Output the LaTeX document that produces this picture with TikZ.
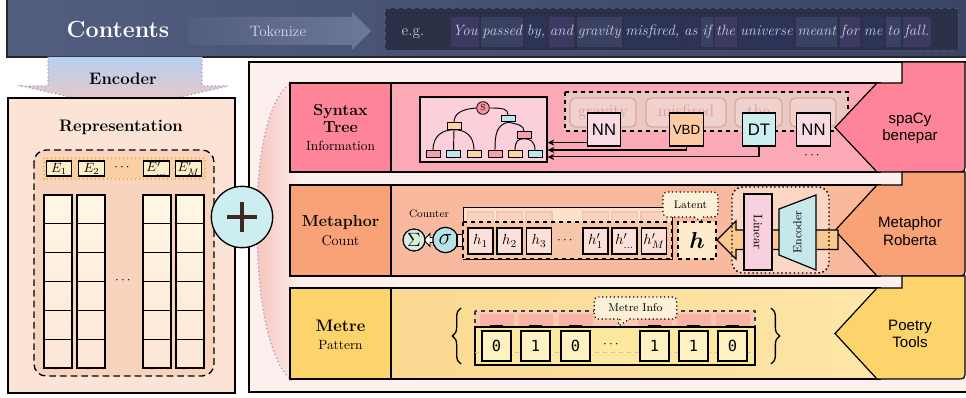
\documentclass[tikz,border=0pt]{standalone}
\usepackage{amsmath}
\usepackage{bm}
\usepackage{fontspec}
\newfontfamily\arialf{Liberation Sans}
\newfontfamily\monof{DejaVu Sans Mono}
\usetikzlibrary{shapes.callouts,arrows.meta,calc,decorations.pathreplacing}
\newcommand{\fz}[1]{\fontsize{#1}{#1}\selectfont}
\definecolor{bannerL}{HTML}{525D80}
\definecolor{bannerR}{HTML}{3C4465}
\definecolor{tokR}{HTML}{6E789B}
\definecolor{tokText}{HTML}{D5D9E6}
\definecolor{egbg}{HTML}{2C3148}
\definecolor{egline}{HTML}{4E5676}
\definecolor{wA}{HTML}{3A4162}
\definecolor{wB}{HTML}{2C3258}
\definecolor{wC}{HTML}{3C3A63}
\definecolor{senttext}{HTML}{C9CDDA}
\definecolor{encTop}{HTML}{B5D0F0}
\definecolor{encBot}{HTML}{F4C5BD}
\definecolor{dotpurple}{HTML}{A597C4}
\definecolor{repbg}{HTML}{FBE3D6}
\definecolor{repinner}{HTML}{F8D4BF}
\definecolor{eband}{HTML}{F9CFA4}
\definecolor{ebandline}{HTML}{F5B545}
\definecolor{etokc}{HTML}{FDF0C8}
\definecolor{cellTop}{HTML}{FFF7E3}
\definecolor{cellBot}{HTML}{FDE6D6}
\definecolor{pluscyan}{HTML}{CDEEF0}
\definecolor{plusbrown}{HTML}{3E2A22}
\definecolor{panelbg}{HTML}{FCEFEE}
\definecolor{glow}{HTML}{F7C3BC}
\definecolor{synrow}{HTML}{FCA9B7}
\definecolor{synlab}{HTML}{FE8599}
\definecolor{treebg}{HTML}{FBD0DA}
\definecolor{troot}{HTML}{F7919F}
\definecolor{tpink}{HTML}{F7A0AB}
\definecolor{tcyan}{HTML}{B9E9EE}
\definecolor{torange}{HTML}{FDD3A8}
\definecolor{wordbox}{HTML}{ECC8C4}
\definecolor{wfbg}{HTML}{EFD2CF}
\definecolor{wfline}{HTML}{DDA898}
\definecolor{wordfade}{HTML}{D7A196}
\definecolor{nnfill}{HTML}{F9DCE3}
\definecolor{vbdfill}{HTML}{FDCAA4}
\definecolor{dtfill}{HTML}{CDEEF0}
\definecolor{metrow}{HTML}{F8B99E}
\definecolor{metlab}{HTML}{F9A277}
\definecolor{hback}{HTML}{FDE1CC}
\definecolor{hbackbox}{HTML}{FAD3BE}
\definecolor{hbackline}{HTML}{F2C4AE}
\definecolor{hdash}{HTML}{F6C6A8}
\definecolor{hbox}{HTML}{FDE0D8}
\definecolor{latfill}{HTML}{FDEBCB}
\definecolor{callfill}{HTML}{FCF0D8}
\definecolor{sigA}{HTML}{D5F0DF}
\definecolor{sigB}{HTML}{B7E2E8}
\definecolor{arrowor}{HTML}{FCC892}
\definecolor{encframe}{HTML}{FBD6C5}
\definecolor{linfill}{HTML}{F9D0E0}
\definecolor{encfill}{HTML}{C6E8EA}
\definecolor{mtrL}{HTML}{FBD68C}
\definecolor{mtrR}{HTML}{FDE6A8}
\definecolor{mtrlab}{HTML}{FDD46B}
\definecolor{bitstrip}{HTML}{FDE8A0}
\definecolor{bitbox}{HTML}{FEF1C2}
\definecolor{bitback}{HTML}{F8B2A6}
\definecolor{bitbackbg}{HTML}{FAC9AE}
\definecolor{navy}{HTML}{34405E}
\definecolor{greyline}{HTML}{CFC5A5}
\begin{document}
\begin{tikzpicture}[x=0.75pt,y=-0.75pt,
  lbl/.style={inner sep=0pt,align=center},
  bl/.style={inner sep=0pt,anchor=base},
  wtok/.style={anchor=base west,inner xsep=1pt,inner ysep=5.6pt,text height=9pt,text depth=3pt,text=senttext,font=\itshape\fz{11.2}},
  tnode/.style={draw=black,line width=0.6pt,minimum width=10.5pt,minimum height=5pt,inner sep=0pt},
  posbox/.style={draw=black,line width=0.9pt,minimum width=25pt,minimum height=24.75pt,inner sep=0pt},
  arr/.style={line width=0.8pt,-{Stealth[length=5pt,width=4.5pt]}},
  hcell/.style={draw=black,line width=1.1pt,fill=hbox,minimum width=19pt,minimum height=19.5pt,inner sep=0pt,font=\fz{10.8}},
  bitcell/.style={draw=black,line width=1.1pt,fill=bitbox,minimum width=21.75pt,minimum height=22.5pt,inner sep=0pt,font=\monof\fz{11.5}},
  etokst/.style={draw=black,line width=0.9pt,fill=etokc,minimum width=19pt,minimum height=11.25pt,inner sep=0pt,font=\fz{10}},
  callbox/.style={rectangle callout,draw=black,dotted,line width=0.9pt,fill=callfill,rounded corners=3pt,inner sep=0pt,callout pointer width=7pt},
  pent/.style={draw=black,line width=0.9pt},
  toolt/.style={inner sep=0pt,align=center,font=\arialf\fontsize{11.3}{13}\selectfont},
  fadew/.style={draw=wfline,line width=1pt,rounded corners=4pt,fill=wfbg,minimum height=21.75pt,inner sep=0pt,text=wordfade,font=\fz{12.5},text height=8pt,text depth=2pt},
]
\useasboundingbox (0,0) rectangle (966,398);
\fill[white] (0,0) rectangle (966,398);

% ---------- banner ----------
\shade[left color=bannerL,right color=bannerR] (7,-3) rectangle (975,57);
\draw[line width=1.5pt,black!85] (7,-3) rectangle (975,57);
\node[lbl,text=white,font=\bfseries\fz{17.5}] (contents) at (118,30) {Contents};
\shade[left color=bannerL,right color=tokR] (188,17) -- (352,17) -- (352,12) -- (371,31) -- (352,50) -- (352,45) -- (188,45) -- cycle;
\node[lbl,text=tokText,font=\fz{11.3}] (tok) at (278,31) {Tokenize};
\draw[egline,dashed,fill=egbg,line width=0.6pt] (385,8) rectangle (958,50);
\node[bl,text=senttext,font=\fz{11.5}] (eg) at (413,36) {e.g.};
\node[wtok,fill=wC] (word1) at (451,36) {You};
\foreach \w/\c [count=\i from 2, evaluate=\i as \j using int(\i-1)] in {passed/wA,{by,}/wB,and/wC,gravity/wA,{misfired,}/wB,as/wB,if/wA,the/wC,universe/wB,meant/wA,for/wC,me/wB,to/wA,fall./wC}
  \node[wtok,fill=\c] (word\i) at ([xshift=1.2pt]word\j.base east) {\w};

% ---------- encoder arrow ----------
\shade[top color=encTop,bottom color=encBot] (48,57) -- (202,57) -- (202,86) -- (228,86) -- (125,110) -- (22,86) -- (48,86) -- cycle;
\draw[dotpurple,dotted,line width=0.9pt] (48,57) -- (48,86) -- (22,86) -- (125,110) -- (228,86) -- (202,86) -- (202,57);
\node[lbl,font=\bfseries\fz{12.5}] (enc) at (123,79) {Encoder};

% ---------- representation ----------
\draw[fill=repbg,line width=0.9pt] (8,98) rectangle (235,393);
\node[lbl,font=\bfseries\fz{12.5}] (rep) at (121,127) {Representation};
\draw[dashed,line width=1pt,fill=repinner,rounded corners=9pt,dash pattern=on 5pt off 3pt] (34,150) rectangle (214,376);
\draw[ebandline,dotted,line width=1pt,fill=eband] (44,158) rectangle (205,179);
\node[etokst] (e1) at (59,168.5) {$E_1$};
\node[etokst] (e2) at (91.5,168.5) {$E_2$};
\node[lbl] (edots) at (123,168) {$\cdots$};
\node[etokst] (e3) at (156.5,168.5) {$E'_{\dots}$};
\node[etokst] (e4) at (188.5,168.5) {$E'_M$};
\foreach \xa in {44,77,143,176}{
  \shade[top color=cellTop,bottom color=cellBot] (\xa,195) rectangle ++(28,173);
  \foreach \ya in {195,223.83,252.67,281.5,310.33,339.17}
    \draw[line width=0.9pt] (\xa,\ya) rectangle ++(28,28.83);
}
\node[lbl] (cdots) at (124,281) {$\cdots$};

% ---------- right panel ----------
\draw[fill=panelbg,line width=0.9pt] (249,62) rectangle (975,392);
\shade[left color=glow,right color=panelbg] (292,82) .. controls (264,100) and (256,170) .. (257,230) .. controls (258,300) and (268,360) .. (292,381) -- (300,381) -- (300,82) -- cycle;
\draw[dotpurple,dotted,line width=0.9pt] (292,82) .. controls (264,100) and (256,170) .. (257,230) .. controls (258,300) and (268,360) .. (292,381);

% ---------- row 1 : syntax ----------
\draw[fill=synrow,line width=0.9pt] (290,83) rectangle (880,172);
\node[draw,line width=0.9pt,fill=synlab,minimum width=75.75pt,minimum height=66.75pt,inner sep=0pt] (syn) at (340.5,127.5) {};
\node[bl,font=\bfseries\fz{12}] at (340.5,116) {Syntax};
\node[bl,font=\bfseries\fz{12}] at (340.5,133) {Tree};
\node[bl,font=\fz{10}] at (340.5,151) {Information};

\node[draw,line width=0.9pt,fill=treebg,minimum width=95.25pt,minimum height=48.75pt,inner sep=0pt] (tree) at (483.5,129.5) {};
\node[circle,draw,line width=0.6pt,fill=troot,minimum size=9.5pt,inner sep=0pt,font=\fz{6.5}] (S) at (483,108) {S};
\node[tnode,fill=torange] (L) at (454,126) {};
\node[tnode,fill=tcyan] (R) at (508,118.5) {};
\node[tnode,fill=tpink] (RR) at (524,135) {};
\node[tnode,fill=tpink] (l1) at (433,154) {};
\node[tnode,fill=tcyan] (l2) at (453.5,154) {};
\node[tnode,fill=torange] (l3) at (474,154) {};
\node[tnode,fill=tpink] (l4) at (495,154) {};
\node[tnode,fill=torange] (l5) at (515,154) {};
\node[tnode,fill=tcyan] (l6) at (535,154) {};
\begin{scope}[line width=0.7pt]
\draw (S.west) .. controls +(-14,1) and +(0,-9) .. (L.north);
\draw (S.east) .. controls +(13,0) and +(0,-6) .. (R.north);
\draw (l1.north) .. controls +(0,-15) and +(-11,0) .. (L.south) .. controls +(11,0) and +(0,-15) .. (l3.north);
\draw (L.south) -- (l2.north);
\draw (R.south) .. controls +(-12,3) and +(0,-15) .. (l4.north);
\draw (R.south) .. controls +(10,2) and +(0,-6) .. (RR.north);
\draw (l5.north) .. controls +(0,-9) and +(-6,0) .. (RR.south) .. controls +(6,0) and +(0,-9) .. (l6.north);
\end{scope}

\draw[dashed,line width=1pt,fill=wordbox] (565,92) rectangle (848,131);
\node[fadew,minimum width=49.5pt] (fw1) at (603,112.5) {gravity};
\node[fadew,minimum width=60pt] (fw2) at (686,112.5) {misfired};
\node[fadew,minimum width=35.25pt] (fw3) at (758.5,112.5) {the};
\node[fadew,minimum width=34.5pt] (fw4) at (813,112.5) {\dots};

\node[posbox,fill=nnfill,font=\arialf\fz{12.5}] (NN) at (604,129.5) {NN};
\node[posbox,fill=vbdfill,font=\arialf\fz{10}] (VBD) at (686.5,129.5) {VBD};
\node[posbox,fill=dtfill,font=\arialf\fz{12.5}] (DT) at (759,129.5) {DT};
\node[posbox,fill=nnfill,font=\arialf\fz{12.5}] (NN2) at (813.5,129.5) {NN};
\node[lbl] (posdots) at (813,156) {$\cdots$};

\path ([yshift=3pt]NN.south west) coordinate (nnA);
\draw[arr] (nnA) -- (nnA -| tree.east);
\draw[arr] (VBD.south) |- ([yshift=-15.4pt]tree.east);
\draw[arr] (DT.south) |- ([yshift=-20.6pt]tree.east);

\draw[pent,fill=synlab] (902,62) -- (965,62) -- (965,163) .. controls (965,172) and (965,172) .. (956,172) -- (877,172) -- (835,127.5) -- (877,83) -- (902,83) -- cycle;
\node[toolt] (spacy) at (910,128) {spaCy\\benepar};

% ---------- row 2 : metaphor ----------
\draw[fill=metrow,line width=0.9pt] (290,185) rectangle (880,276);
\node[draw,line width=0.9pt,fill=metlab,minimum width=75.75pt,minimum height=68.25pt,inner sep=0pt] (met) at (340.5,230.5) {};
\node[bl,font=\bfseries\fz{12}] at (340.5,227) {Metaphor};
\node[bl,font=\fz{10.5}] at (340.5,246) {Count};

\node[lbl,font=\fz{8}] (counter) at (429,214) {Counter};
\draw[fill=white,line width=0.7pt] (424,240) -- (430,233.5) -- (430,237.5) -- (436,237.5) -- (436,242.5) -- (430,242.5) -- (430,246.5) -- cycle;
\node[circle,draw,line width=0.9pt,fill=sigA,minimum size=16.5pt,inner sep=0pt,font=\fz{15}] (sum) at (414,240) {$\Sigma$};
\node[circle,draw,line width=0.9pt,fill=sigB,minimum size=19pt,inner sep=0pt,font=\fz{16.5}] (sig) at (445.5,240) {$\sigma$};
\draw[fill=hback,line width=0.8pt] (457,234.5) rectangle (463,246.5);

\draw[fill=hback,line width=0.7pt] (463,207) rectangle (672,259);
\foreach \x in {480.5,509.5,539,595.5,624.5,654}
  \draw[hbackline,fill=hbackbox,line width=0.8pt] (\x-13,212) rectangle (\x+13,240);
\draw[dashed,line width=1pt,fill=hdash] (463,222) rectangle (672,259);
\node[hcell] (h1) at (480.5,241) {$h_1$};
\node[hcell] (h2) at (509.5,241) {$h_2$};
\node[hcell] (h3) at (539,241) {$h_3$};
\node[lbl] (hdots) at (566,241) {$\cdots$};
\node[hcell] (h4) at (595.5,241) {$h'_1$};
\node[hcell] (h5) at (624.5,241) {$h'_{\dots}$};
\node[hcell] (h6) at (654,241) {$h'_M$};

\node[draw,dashed,line width=1pt,fill=latfill,minimum width=28.5pt,minimum height=27.75pt,inner sep=0pt,font=\fz{17}] (hlat) at (697,240.5) {$\bm{h}$};
\node[callbox,minimum width=41.25pt,minimum height=18.75pt,font=\fz{8.2},callout absolute pointer={(702,222)}] (lat) at (690.5,204.5) {Latent};

\draw[pent,fill=metlab] (902,172) -- (965,172) -- (965,267) .. controls (965,276) and (965,276) .. (956,276) -- (877,276) -- (835,230.5) -- (877,185) -- (902,185) -- cycle;
\node[toolt] (robta) at (910,231) {Metaphor\\Roberta};

\fill[encframe,rounded corners=8pt] (732,187) rectangle (829,273);
\draw[fill=arrowor,line width=0.9pt] (838,230) -- (736,230) -- (736,221) -- (717,240) -- (736,259) -- (736,249.5) -- (838,249.5) -- cycle;
\draw[dotted,line width=1.1pt,rounded corners=8pt] (732,187) rectangle (829,273);
\node[draw,line width=0.9pt,fill=linfill,minimum width=21pt,minimum height=57pt,inner sep=0pt] (lin) at (758,232) {};
\node[lbl,rotate=-90,font=\fz{9.3}] at (lin) {Linear};
\draw[fill=encfill,line width=0.9pt] (779,209) -- (816,195) -- (816,270) -- (779,255) -- cycle;
\node[lbl,rotate=90,font=\fz{8.7}] (encl) at (797.5,232) {Encoder};

% ---------- row 3 : metre ----------
\shade[left color=mtrL,right color=mtrR] (290,288) rectangle (880,379);
\draw[line width=0.9pt] (290,288) rectangle (880,379);
\node[draw,line width=0.9pt,fill=mtrlab,minimum width=75.75pt,minimum height=68.25pt,inner sep=0pt] (mtr) at (340.5,333.5) {};
\node[bl,font=\bfseries\fz{12.5}] at (340.5,332) {Metre};
\node[bl,font=\fz{10}] at (340.5,350) {Pattern};

\draw[decorate,decoration={brace,amplitude=6.5pt},line width=1pt] (461,364) -- (461,308);
\draw[decorate,decoration={brace,amplitude=6.5pt},line width=1pt] (771,308) -- (771,364);

\draw[navy,dashed,line width=1pt,fill=bitbackbg] (475,311) rectangle (755,340);
\foreach \x in {496.5,535.5,575.5,654.5,693.5,732.5}{
  \fill[bitback] (\x-17,314) rectangle (\x+17,330);
  \draw[line width=0.6pt] (\x-6,330) -- (\x-6,325.5) -- (\x+6,325.5) -- (\x+6,330);
  \draw[line width=0.6pt] (\x,325.5) -- (\x,330);
}
\draw[line width=1pt,fill=bitstrip] (475,327) rectangle (755,365);
\draw[greyline,dashed,line width=0.6pt] (475,352) -- (755,352);
\node[bitcell] (b1) at (496.5,346) {0};
\node[bitcell] (b2) at (535.5,346) {1};
\node[bitcell] (b3) at (575.5,346) {0};
\node[lbl] (bdots) at (612,345) {$\cdots$};
\node[bitcell] (b4) at (654.5,346) {1};
\node[bitcell] (b5) at (693.5,346) {1};
\node[bitcell] (b6) at (732.5,346) {0};
\node[callbox,minimum width=62pt,minimum height=16.5pt,font=\fz{8.5},callout absolute pointer={(617,327)}] (minfo) at (635.5,308) {Metre Info};

\draw[pent,fill=mtrlab] (902,276) -- (965,276) -- (965,370) .. controls (965,379) and (965,379) .. (956,379) -- (877,379) -- (835,333.5) -- (877,288) -- (902,288) -- cycle;
\node[toolt] (ptools) at (910,334) {Poetry\\Tools};

% ---------- plus ----------
\node[circle,draw,line width=1pt,fill=pluscyan,minimum size=46pt,inner sep=0pt] (plus) at (242,217) {};
\draw[plusbrown,line width=2.6pt] ([xshift=-11.2pt]plus.center) -- ([xshift=11.2pt]plus.center);
\draw[plusbrown,line width=2.6pt] ([yshift=-11pt]plus.center) -- ([yshift=11pt]plus.center);
\end{tikzpicture}
\end{document}
